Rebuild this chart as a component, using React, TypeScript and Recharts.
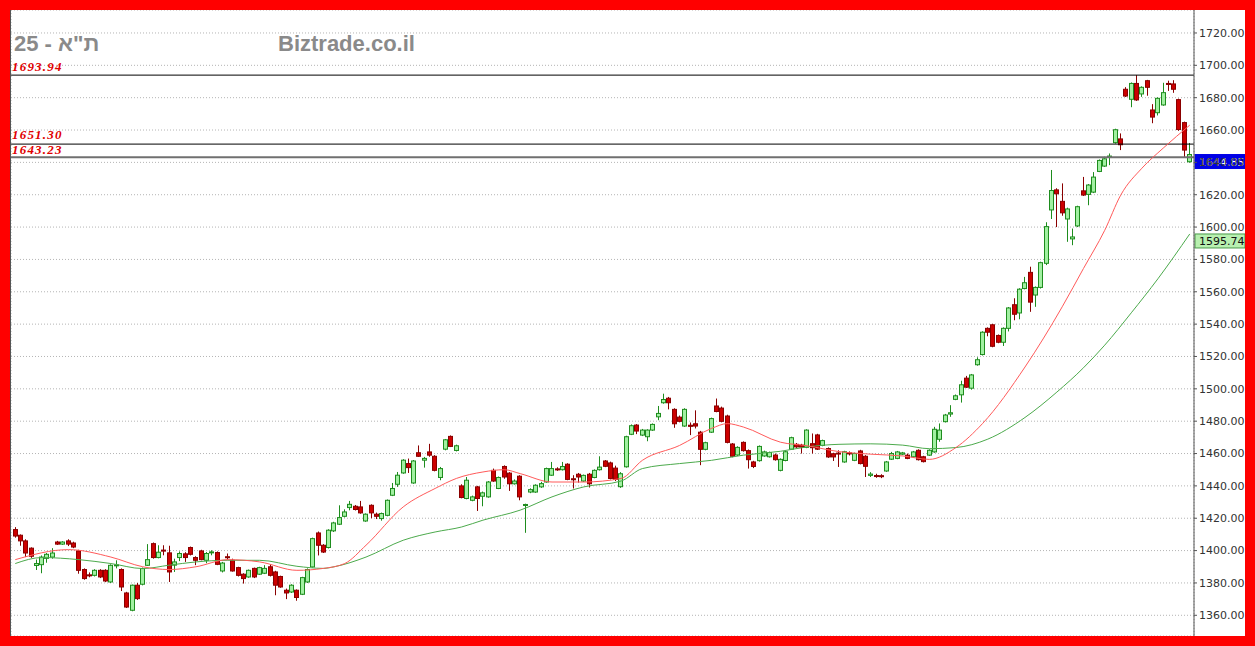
import React from "react";
import { Bar, CartesianGrid, ComposedChart, Line, ReferenceLine, XAxis, YAxis } from "recharts";

// daily candles: open, high, low, close
const ohlc: [number, number, number, number][] = [
  [1413, 1414.5, 1408, 1409], [1409.5, 1410, 1403, 1406], [1406, 1407, 1396, 1398.5], [1401.5, 1402, 1395.5, 1396.5],
  [1390.8, 1394.5, 1388, 1392], [1391.3, 1397, 1386, 1396], [1395.2, 1398.5, 1392.5, 1397.7], [1396, 1401.5, 1395, 1398.5],
  [1405.3, 1406, 1403.5, 1404], [1404, 1405.8, 1403.5, 1405.3], [1406, 1407, 1402.8, 1404], [1404.7, 1405.5, 1401.5, 1402.2],
  [1399.8, 1400.5, 1385.7, 1387.8], [1388.3, 1389, 1382, 1382.7], [1385, 1386.5, 1383.5, 1384.5], [1384.7, 1388.5, 1384, 1387.8],
  [1387.8, 1388.5, 1383, 1383.7], [1387.8, 1388.5, 1380.5, 1381.2], [1380.6, 1391.5, 1380, 1390.9], [1390.6, 1394, 1389, 1391.2],
  [1388.3, 1389, 1375, 1377.5], [1373.8, 1374.5, 1364.5, 1365.1], [1363.1, 1379, 1362.5, 1378.6], [1378.6, 1380, 1369.5, 1370.3],
  [1379.2, 1389.5, 1378.5, 1388.9], [1390.9, 1404, 1390.5, 1394.4], [1404.3, 1405, 1395, 1395.7], [1395.7, 1403.3, 1395.2, 1399],
  [1400.3, 1403.3, 1397.1, 1399.8], [1398.6, 1403, 1380.6, 1386.8], [1391, 1395, 1386.8, 1393], [1395.7, 1399.5, 1393.5, 1398.2],
  [1398, 1399, 1393, 1395.7], [1401.9, 1402.5, 1397, 1397.7], [1395.7, 1396.5, 1391, 1394], [1399.8, 1400.5, 1394, 1394.4],
  [1394, 1399.1, 1392.2, 1398.2], [1398.8, 1400.2, 1397.1, 1399.2], [1398.8, 1399.5, 1391, 1391.5], [1387.4, 1393, 1386.5, 1392.3],
  [1396.2, 1398.2, 1394.4, 1395.8], [1394, 1395, 1387, 1387.4], [1389.5, 1390, 1384, 1384.7], [1385.4, 1386, 1379.6, 1382.7],
  [1383.7, 1388.3, 1383.2, 1387.8], [1389, 1389.5, 1383, 1383.7], [1385.4, 1390, 1385, 1389.5], [1386, 1391, 1385.5, 1389],
  [1390, 1391.5, 1384, 1384.7], [1386.8, 1387.5, 1372.4, 1378.6], [1384, 1384.5, 1377, 1377.5], [1375.5, 1376.5, 1370, 1373.8],
  [1374.4, 1379.2, 1373.8, 1378.6], [1375.5, 1376, 1369, 1371], [1373, 1383.8, 1372.5, 1383.3], [1380.6, 1389, 1380, 1388.3],
  [1389.9, 1408, 1389.5, 1407.4], [1410.9, 1411.8, 1397, 1403.3], [1403.3, 1404, 1398.5, 1399.1], [1401.9, 1413.2, 1401.3, 1412.6],
  [1412.2, 1417.8, 1411.5, 1417.1], [1416.3, 1428, 1415.8, 1420.4], [1421.2, 1425.5, 1420.5, 1423.9], [1426.6, 1430.7, 1424.9, 1428.6],
  [1427.4, 1428.2, 1424.8, 1425.4], [1427, 1430.7, 1422.8, 1423.3], [1418.3, 1423, 1417.8, 1422.5], [1428, 1428.6, 1420, 1423.3],
  [1422.5, 1423.5, 1419.5, 1421.2], [1419.8, 1423.5, 1418.5, 1422.9], [1421.8, 1431.6, 1421.2, 1431.1], [1434.2, 1441.8, 1433.7, 1438.4],
  [1441, 1448.6, 1439.4, 1446.6], [1448, 1456.5, 1447.5, 1455.9], [1453.8, 1456.9, 1448, 1451.3], [1441.8, 1456, 1441.3, 1455.4],
  [1460.5, 1465, 1457.9, 1458.3], [1455.9, 1457.9, 1451.3, 1457], [1461, 1466, 1458, 1459], [1458.3, 1459, 1449, 1449.6],
  [1445.2, 1451.7, 1443.5, 1450.7], [1462.7, 1469, 1462, 1468.5], [1470.6, 1471.2, 1464, 1464.4], [1461.9, 1465.5, 1461.3, 1464.8],
  [1440, 1441, 1432.3, 1432.8], [1432.2, 1445.5, 1431.7, 1443.5], [1431.1, 1434, 1430.5, 1433.2], [1439.4, 1440, 1424.5, 1432.2],
  [1433.6, 1436.5, 1427.4, 1435.7], [1433.2, 1443, 1432.7, 1442.4], [1449.6, 1450.7, 1442.5, 1443], [1438.4, 1445.8, 1438, 1445.2],
  [1452, 1452.7, 1444.4, 1445.5], [1447.9, 1448.5, 1436.9, 1441.3], [1441.3, 1444, 1440.8, 1443], [1446, 1446.6, 1431.1, 1433.2],
  [1428, 1429, 1411, 1428.5], [1436.2, 1438.5, 1435.5, 1437.7], [1436.2, 1441, 1435.7, 1440.4], [1439.4, 1442.5, 1438.8, 1441.4],
  [1442.4, 1451.3, 1442, 1450.7], [1446.6, 1454.8, 1446.2, 1450.7], [1450.5, 1451.5, 1449.3, 1449.9], [1450, 1454.8, 1449.5, 1452],
  [1453.4, 1454, 1443.5, 1444], [1444.4, 1446.6, 1438.4, 1443.8], [1447.2, 1448, 1442, 1445.5], [1443, 1447, 1442.5, 1446.5],
  [1447.2, 1448, 1439, 1441.3], [1445.2, 1450.2, 1444.7, 1449.6], [1450, 1458.3, 1449.5, 1451.6], [1455.4, 1456, 1451.6, 1452.1],
  [1454.2, 1455, 1444, 1444.6], [1451, 1452.5, 1443, 1444], [1439.5, 1448.5, 1438.8, 1447.5], [1451.8, 1471, 1451.3, 1470.4],
  [1471.9, 1478, 1471.4, 1477.2], [1477.6, 1478.2, 1472, 1473.9], [1471.4, 1475.2, 1470.8, 1474.5], [1470.4, 1475, 1467.6, 1474.5],
  [1474.5, 1478.6, 1474, 1478], [1482.7, 1489.4, 1480.6, 1484.8], [1491.4, 1497, 1490.8, 1493.4], [1494.2, 1495, 1487.3, 1491.4],
  [1487.3, 1488, 1475.9, 1478.4], [1482.5, 1483.5, 1479.3, 1479.9], [1477, 1488, 1476.5, 1487.3], [1477.5, 1479.2, 1471.4, 1476.8],
  [1478.4, 1486.7, 1475.5, 1477], [1473.2, 1474, 1452.8, 1462.6], [1462.6, 1467.3, 1462, 1466.7], [1473.2, 1482.2, 1472.7, 1481.6],
  [1489.4, 1494, 1485.5, 1486], [1488.1, 1489, 1479.3, 1479.9], [1483.2, 1484, 1466.3, 1466.9], [1465.9, 1466.5, 1457.7, 1458.3],
  [1459.1, 1464.5, 1458.5, 1463.8], [1466.9, 1467.5, 1461.2, 1461.8], [1461.8, 1462.5, 1450.7, 1456.2], [1454.8, 1455.5, 1451, 1452],
  [1455.6, 1465, 1455, 1464.4], [1458.5, 1461.8, 1458, 1461], [1458, 1461.2, 1457.5, 1460.6], [1459.1, 1460, 1455.6, 1456.2],
  [1449.6, 1457, 1449, 1456.4], [1455.7, 1461.7, 1455.2, 1461.1], [1462.7, 1470.4, 1462.2, 1469.8], [1465.7, 1466.5, 1463.5, 1464.1],
  [1465.2, 1466, 1460, 1464], [1463.8, 1475, 1463.3, 1474.5], [1466.1, 1472.4, 1460, 1463.6], [1471.5, 1472.2, 1462.2, 1462.7],
  [1465, 1468.6, 1464.5, 1468], [1463.1, 1463.8, 1457.3, 1457.9], [1459.9, 1460.5, 1455.4, 1457.9], [1460.3, 1462, 1451.7, 1459.7],
  [1454.8, 1461.7, 1454.3, 1461.1], [1460.4, 1461.3, 1458.8, 1459.8], [1455.8, 1460.6, 1455.3, 1460], [1461.6, 1462.3, 1453.3, 1453.8],
  [1458.3, 1459, 1445.5, 1452.1], [1446.5, 1448.5, 1445.5, 1447.3], [1446.4, 1447.5, 1445, 1446], [1446.3, 1447.2, 1444.8, 1445.9],
  [1449.2, 1455.4, 1448.7, 1454.8], [1456.5, 1461, 1456, 1460], [1457, 1461.6, 1456.5, 1461], [1459.6, 1461, 1459, 1460.4],
  [1459, 1460, 1456.5, 1457], [1458, 1461.6, 1457.5, 1461], [1462, 1462.6, 1455.7, 1456.2], [1458, 1458.6, 1454.5, 1455],
  [1459, 1462.6, 1458.5, 1462], [1461, 1476.5, 1460.5, 1475], [1468.8, 1478.6, 1467.3, 1474.5], [1479.7, 1484.5, 1479.2, 1483.8],
  [1484.4, 1489.9, 1482.7, 1485.2], [1493.5, 1496.5, 1493, 1495.7], [1496.3, 1505, 1491.5, 1502.5], [1506.6, 1508, 1500.5, 1501],
  [1500.4, 1509.2, 1499.5, 1508.6], [1514.9, 1519.5, 1514.3, 1518], [1521.2, 1535.6, 1520.6, 1535], [1537.4, 1538, 1532.5, 1535],
  [1539.6, 1540.2, 1525.7, 1526.3], [1533, 1533.6, 1528.2, 1528.8], [1528.8, 1538, 1526.5, 1537.4], [1537.4, 1550.6, 1535.5, 1550],
  [1552, 1556, 1542.4, 1546.1], [1546.9, 1562.2, 1543, 1561.6], [1562, 1569.2, 1561.5, 1565.6], [1572, 1575.5, 1547.6, 1553.6],
  [1558, 1563.3, 1550.7, 1562.7], [1562.7, 1578.6, 1562, 1578], [1577.6, 1603, 1576.5, 1600.3], [1610.6, 1635.3, 1605, 1622.6],
  [1623, 1624, 1600, 1620.6], [1615.9, 1627, 1607, 1608.8], [1605, 1612, 1590.9, 1611.2], [1592.7, 1599.1, 1588.8, 1593.9],
  [1600.7, 1613.2, 1600, 1612.6], [1622.4, 1631, 1619.2, 1619.8], [1620.2, 1626.6, 1613.5, 1626], [1621.6, 1634, 1621, 1630.9],
  [1634.4, 1641.8, 1634, 1641.2], [1637.7, 1643.5, 1637.2, 1642.2], [1643.2, 1645.5, 1638.3, 1643.9], [1652.2, 1660.8, 1651.6, 1660.2],
  [1654.5, 1657.9, 1647.6, 1650.9], [1685.2, 1686.5, 1680.4, 1681], [1679, 1689.4, 1674.1, 1688.8], [1688.8, 1693.94, 1678, 1678.6],
  [1682.3, 1687, 1680.5, 1686.4], [1690.5, 1691, 1681.2, 1686.4], [1672.4, 1676, 1664.2, 1668], [1670.7, 1680.2, 1669, 1679.6],
  [1675.5, 1689.2, 1675, 1683.1], [1688.8, 1690.5, 1684.2, 1688.3], [1688.5, 1690.8, 1683, 1685.2], [1678.8, 1679.4, 1659.5, 1660.3],
  [1664.6, 1665.2, 1643, 1647.6], [1640.4, 1652, 1639.8, 1644.85],
];

// moving averages: [candle index, value]
const fastMa: [number, number][] = [
  [0, 1394.4], [10, 1400.6], [18, 1396], [24, 1390], [29, 1388.3], [34, 1390], [40, 1394.4], [46, 1393],
  [53, 1387.8], [58, 1389], [62, 1392], [66, 1403.3], [73, 1427], [79, 1438.4], [83, 1444.6], [88, 1448.6],
  [92, 1450], [95, 1447.6], [101, 1442.4], [107, 1442.4], [114, 1444.6], [118, 1455.8], [125, 1465], [131, 1475.5],
  [134, 1478.5], [137, 1476.4], [144, 1467], [149, 1464.8], [155, 1461.2], [161, 1459.6], [167, 1458.5], [172, 1456.4],
  [177, 1463.7], [182, 1478.5], [190, 1513.5], [197, 1550.7], [201, 1574.4], [205, 1598], [208, 1619.7], [212, 1636.4],
  [216, 1648.8], [221, 1663],
];
const slowMa: [number, number][] = [
  [0, 1392], [5, 1395.7], [12, 1394.4], [18, 1392], [24, 1388.9], [29, 1391], [34, 1393], [40, 1394],
  [46, 1394], [53, 1390.3], [58, 1389], [60, 1390], [66, 1396], [73, 1406.4], [79, 1411.5], [84, 1414.6],
  [88, 1418.8], [95, 1425], [101, 1433.2], [107, 1439.4], [114, 1443], [118, 1450.7], [125, 1453.8], [131, 1455.8],
  [137, 1459], [144, 1461.4], [149, 1464.1], [155, 1465.7], [161, 1466], [167, 1465.2], [172, 1463], [177, 1463.7],
  [183, 1468.9], [190, 1482.3], [196, 1498], [201, 1513], [205, 1527], [210, 1547], [215, 1568], [221, 1595.74],
];

const monthStarts = [16, 39, 59, 79, 97, 118, 142, 162, 182, 203];
const priceTicks = [1360, 1380, 1400, 1420, 1440, 1460, 1480, 1500, 1520, 1540, 1560, 1580, 1600, 1620, 1640, 1660, 1680, 1700, 1720];
const levels = [1693.94, 1651.3, 1643.23];
const lastClose = 1644.85;
const slowLast = 1595.74;

const fastMap = new Map(fastMa);
const slowMap = new Map(slowMa);
const data = ohlc.map(([open, high, low, close], i) => ({
  i,
  open,
  high,
  low,
  close,
  range: [low, high],
  fast: fastMap.get(i) ?? null,
  slow: slowMap.get(i) ?? null,
}));

function Candle(props: any) {
  const { x, y, width, height, payload } = props;
  if (x == null || y == null || !payload) return null;
  const top = height < 0 ? y + height : y;
  const h = Math.abs(height);
  const { open, high, low, close } = payload;
  const span = high - low || 1;
  const py = (v: number) => top + ((high - v) / span) * h;
  const cx = Math.floor(x + width / 2) + 0.5;
  const up = close >= open;
  const b1 = py(Math.max(open, close));
  const b2 = py(Math.min(open, close));
  const stroke = up ? "#1e8c1e" : "#8a0000";
  const fill = up ? "#a2f0a2" : "#cc0000";
  return (
    <g>
      <line x1={cx} x2={cx} y1={top} y2={top + h} stroke={stroke} strokeWidth={1} />
      <rect x={cx - 2} y={b1} width={4} height={Math.max(b2 - b1, 1)} fill={fill} stroke={stroke} strokeWidth={1} />
    </g>
  );
}

function LevelLabel({ viewBox, text, dy = -4 }: any) {
  if (!viewBox) return null;
  return (
    <text
      x={viewBox.x + 1}
      y={viewBox.y + dy}
      fill="#e00000"
      fontFamily="Liberation Serif"
      fontStyle="italic"
      fontWeight="bold"
      fontSize={13}
      letterSpacing={1.2}
    >
      {text}
    </text>
  );
}

function PriceTag({ viewBox, text, bg, color, border }: any) {
  if (!viewBox) return null;
  const x = viewBox.x + viewBox.width + 1;
  return (
    <g>
      <rect x={x} y={viewBox.y} width={50} height={14} fill={bg} stroke={border} strokeWidth={1} />
      <text x={x + 4} y={viewBox.y + 11} fill={color} fontFamily="DejaVu Sans" fontSize={11}>
        {text}
      </text>
    </g>
  );
}

export default function App() {
  return (
    <div style={{ position: "absolute", left: 0, top: 0, width: 1255, height: 646, background: "#ff0000" }}>
      <div style={{ position: "absolute", left: 10, top: 10, width: 1235, height: 626, background: "#fff", overflow: "hidden" }}>
        <ComposedChart width={1235} height={626} data={data} margin={{ top: 0, right: 0, bottom: 0, left: 1 }}>
          <CartesianGrid stroke="#b4b4b4" strokeDasharray="1 2" />
          <XAxis
            type="number"
            dataKey="i"
            domain={[-0.8, 221.8]}
            ticks={monthStarts}
            tick={false}
            tickLine={false}
            axisLine={false}
            height={0}
            allowDataOverflow
          />
          <YAxis
            orientation="right"
            width={51}
            domain={[1347.2, 1734.2]}
            ticks={priceTicks}
            allowDataOverflow
            tickFormatter={(v: number) => v.toFixed(2)}
            tick={{ fill: "#333", fontSize: 11, fontFamily: "DejaVu Sans" }}
            tickSize={3}
            tickMargin={2}
            stroke="#555"
          />
          <ReferenceLine y={levels[0]} stroke="#000" strokeWidth={1} label={<LevelLabel text="1693.94" />} />
          <ReferenceLine y={levels[1]} stroke="#000" strokeWidth={1} label={<LevelLabel text="1651.30" dy={-5} />} />
          <ReferenceLine y={levels[2]} stroke="#707070" strokeWidth={2} label={<LevelLabel text="1643.23" dy={-3} />} />
          <Bar dataKey="range" barSize={5} shape={<Candle />} isAnimationActive={false} />
          <Line type="monotone" dataKey="slow" stroke="#4caa4c" strokeWidth={1} dot={false} connectNulls isAnimationActive={false} />
          <Line type="monotone" dataKey="fast" stroke="#ff5a5a" strokeWidth={1} dot={false} connectNulls isAnimationActive={false} />
          <ReferenceLine
            y={lastClose}
            stroke="none"
            label={<PriceTag text={lastClose.toFixed(2)} bg="#0000e6" color="#fff" border="#0000e6" />}
          />
          <ReferenceLine
            y={slowLast}
            stroke="none"
            label={<PriceTag text={slowLast.toFixed(2)} bg="#b8f0b0" color="#111" border="#4a9a4a" />}
          />
        </ComposedChart>
        <div style={{ position: "absolute", left: 0, top: 0, width: 1, height: 626, background: "#555" }} />
      </div>
      <svg width={1255} height={646} style={{ position: "absolute", left: 0, top: 0, pointerEvents: "none" }}>
        <text x={14} y={51} fill="#8a8a8a" fontFamily="Liberation Sans" fontWeight="bold" fontSize={22} direction="ltr">
          {"\u200E25 - ת\"א"}
        </text>
        <text x={278} y={51} fill="#8a8a8a" fontFamily="Liberation Sans" fontWeight="bold" fontSize={22}>
          Biztrade.co.il
        </text>
      </svg>
    </div>
  );
}
